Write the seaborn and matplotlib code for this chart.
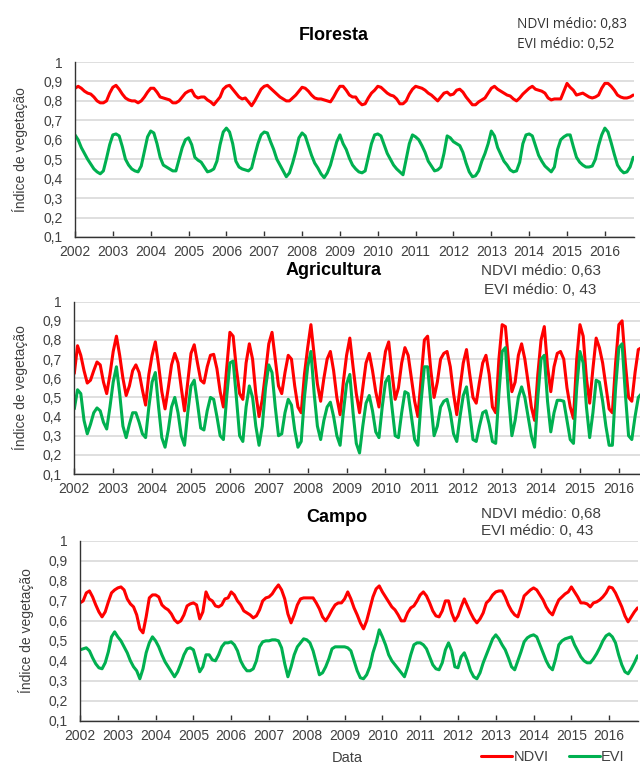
import matplotlib
matplotlib.use('Agg')
import matplotlib.pyplot as plt
import numpy as np
import pandas as pd
import seaborn as sns

# monthly values, Jan 2002 .. Oct 2016 (one row per year)
floresta_ndvi = [
    0.865, 0.875, 0.865, 0.85, 0.84, 0.835, 0.82, 0.80, 0.79, 0.79, 0.80, 0.84,
    0.87, 0.88, 0.86, 0.835, 0.815, 0.805, 0.80, 0.80, 0.79, 0.80, 0.82, 0.845,
    0.865, 0.865, 0.845, 0.82, 0.815, 0.81, 0.805, 0.79, 0.79, 0.80, 0.82, 0.84,
    0.85, 0.855, 0.825, 0.815, 0.82, 0.82, 0.805, 0.795, 0.78, 0.80, 0.82, 0.86,
    0.875, 0.88, 0.86, 0.84, 0.82, 0.81, 0.815, 0.795, 0.775, 0.80, 0.83, 0.86,
    0.875, 0.88, 0.865, 0.85, 0.835, 0.82, 0.81, 0.80, 0.80, 0.815, 0.83, 0.85,
    0.87, 0.865, 0.85, 0.83, 0.815, 0.81, 0.81, 0.805, 0.80, 0.795, 0.82, 0.85,
    0.875, 0.875, 0.855, 0.83, 0.82, 0.82, 0.795, 0.78, 0.785, 0.815, 0.84, 0.855,
    0.875, 0.87, 0.855, 0.84, 0.83, 0.825, 0.81, 0.785, 0.785, 0.80, 0.835, 0.86,
    0.875, 0.87, 0.865, 0.855, 0.84, 0.83, 0.815, 0.80, 0.82, 0.84, 0.845, 0.83,
    0.835, 0.855, 0.86, 0.845, 0.82, 0.80, 0.78, 0.78, 0.795, 0.805, 0.815, 0.84,
    0.865, 0.875, 0.86, 0.85, 0.84, 0.83, 0.825, 0.81, 0.80, 0.815, 0.835, 0.85,
    0.865, 0.875, 0.86, 0.855, 0.85, 0.84, 0.815, 0.805, 0.81, 0.81, 0.81, 0.85,
    0.89, 0.87, 0.855, 0.83, 0.835, 0.84, 0.83, 0.82, 0.815, 0.82, 0.83, 0.865,
    0.89, 0.89, 0.875, 0.855, 0.83, 0.82, 0.815, 0.815, 0.82, 0.83,
]
floresta_evi = [
    0.625, 0.60, 0.56, 0.53, 0.50, 0.475, 0.45, 0.435, 0.425, 0.44, 0.505, 0.575,
    0.625, 0.63, 0.62, 0.565, 0.50, 0.47, 0.45, 0.44, 0.435, 0.465, 0.54, 0.615,
    0.645, 0.635, 0.58, 0.51, 0.47, 0.46, 0.45, 0.44, 0.44, 0.50, 0.56, 0.60,
    0.61, 0.575, 0.51, 0.495, 0.485, 0.46, 0.435, 0.44, 0.45, 0.49, 0.575, 0.64,
    0.66, 0.64, 0.58, 0.49, 0.46, 0.45, 0.445, 0.44, 0.455, 0.52, 0.58, 0.625,
    0.64, 0.635, 0.59, 0.55, 0.50, 0.47, 0.44, 0.41, 0.43, 0.48, 0.54, 0.61,
    0.635, 0.62, 0.57, 0.52, 0.48, 0.455, 0.425, 0.405, 0.43, 0.47, 0.53, 0.59,
    0.625, 0.58, 0.55, 0.505, 0.47, 0.45, 0.435, 0.43, 0.44, 0.51, 0.58, 0.625,
    0.63, 0.62, 0.575, 0.53, 0.50, 0.47, 0.45, 0.435, 0.42, 0.50, 0.58, 0.625,
    0.615, 0.60, 0.57, 0.535, 0.49, 0.465, 0.44, 0.445, 0.46, 0.53, 0.62, 0.61,
    0.59, 0.58, 0.57, 0.535, 0.48, 0.435, 0.41, 0.415, 0.44, 0.49, 0.53, 0.58,
    0.645, 0.62, 0.56, 0.525, 0.49, 0.47, 0.445, 0.435, 0.44, 0.485, 0.58, 0.625,
    0.63, 0.62, 0.57, 0.52, 0.49, 0.465, 0.45, 0.435, 0.46, 0.55, 0.60, 0.615,
    0.625, 0.625, 0.565, 0.51, 0.485, 0.47, 0.46, 0.46, 0.465, 0.50, 0.57, 0.625,
    0.66, 0.64, 0.585, 0.525, 0.47, 0.445, 0.43, 0.435, 0.46, 0.51,
]
agric_ndvi = [
    0.625, 0.77, 0.72, 0.64, 0.575, 0.59, 0.64, 0.685, 0.67, 0.58, 0.52, 0.62,
    0.74, 0.82, 0.72, 0.60, 0.51, 0.56, 0.64, 0.67, 0.63, 0.54, 0.46, 0.62,
    0.72, 0.79, 0.67, 0.53, 0.44, 0.55, 0.67, 0.73, 0.68, 0.55, 0.43, 0.58,
    0.73, 0.775, 0.68, 0.59, 0.575, 0.66, 0.72, 0.725, 0.65, 0.53, 0.45, 0.65,
    0.84, 0.82, 0.65, 0.52, 0.49, 0.68, 0.78, 0.70, 0.52, 0.40, 0.49, 0.63,
    0.78, 0.84, 0.70, 0.56, 0.52, 0.63, 0.72, 0.70, 0.56, 0.45, 0.42, 0.62,
    0.76, 0.88, 0.72, 0.57, 0.48, 0.60, 0.70, 0.74, 0.64, 0.50, 0.41, 0.58,
    0.72, 0.81, 0.66, 0.52, 0.42, 0.55, 0.68, 0.73, 0.64, 0.53, 0.45, 0.62,
    0.74, 0.79, 0.63, 0.49, 0.55, 0.68, 0.76, 0.72, 0.60, 0.48, 0.40, 0.60,
    0.80, 0.82, 0.64, 0.50, 0.58, 0.70, 0.73, 0.74, 0.66, 0.52, 0.41, 0.55,
    0.68, 0.75, 0.62, 0.50, 0.47, 0.58, 0.68, 0.72, 0.62, 0.45, 0.42, 0.70,
    0.88, 0.87, 0.68, 0.53, 0.58, 0.72, 0.78, 0.70, 0.58, 0.45, 0.38, 0.62,
    0.80, 0.87, 0.66, 0.53, 0.66, 0.73, 0.74, 0.70, 0.55, 0.45, 0.39, 0.70,
    0.88, 0.82, 0.60, 0.47, 0.65, 0.81, 0.76, 0.68, 0.56, 0.44, 0.42, 0.68,
    0.88, 0.90, 0.68, 0.50, 0.48, 0.63, 0.75, 0.76, 0.70, 0.60,
]
agric_evi = [
    0.44, 0.54, 0.52, 0.38, 0.31, 0.36, 0.42, 0.445, 0.43, 0.37, 0.335, 0.45,
    0.58, 0.66, 0.52, 0.35, 0.29, 0.36, 0.42, 0.42, 0.37, 0.31, 0.29, 0.45,
    0.58, 0.63, 0.45, 0.29, 0.24, 0.33, 0.45, 0.50, 0.42, 0.30, 0.25, 0.42,
    0.56, 0.59, 0.47, 0.34, 0.33, 0.43, 0.50, 0.49, 0.40, 0.30, 0.28, 0.50,
    0.68, 0.69, 0.50, 0.30, 0.27, 0.45, 0.56, 0.50, 0.35, 0.25, 0.35, 0.55,
    0.67, 0.63, 0.45, 0.30, 0.31, 0.42, 0.49, 0.46, 0.33, 0.24, 0.27, 0.50,
    0.66, 0.74, 0.52, 0.35, 0.28, 0.38, 0.45, 0.475, 0.40, 0.30, 0.25, 0.42,
    0.57, 0.62, 0.42, 0.26, 0.21, 0.35, 0.47, 0.51, 0.43, 0.32, 0.29, 0.45,
    0.58, 0.61, 0.45, 0.30, 0.29, 0.42, 0.53, 0.52, 0.40, 0.28, 0.25, 0.48,
    0.66, 0.66, 0.47, 0.30, 0.35, 0.45, 0.48, 0.49, 0.42, 0.31, 0.27, 0.40,
    0.51, 0.555, 0.42, 0.28, 0.27, 0.35, 0.42, 0.43, 0.36, 0.27, 0.26, 0.52,
    0.74, 0.76, 0.50, 0.30, 0.38, 0.50, 0.555, 0.50, 0.40, 0.30, 0.24, 0.50,
    0.70, 0.72, 0.48, 0.32, 0.42, 0.485, 0.485, 0.48, 0.38, 0.28, 0.26, 0.55,
    0.74, 0.68, 0.45, 0.29, 0.42, 0.59, 0.58, 0.48, 0.35, 0.25, 0.25, 0.55,
    0.76, 0.78, 0.52, 0.30, 0.28, 0.40, 0.50, 0.52, 0.48, 0.42,
]
campo_ndvi = [
    0.69, 0.70, 0.74, 0.75, 0.72, 0.68, 0.645, 0.62, 0.645, 0.695, 0.74, 0.755,
    0.765, 0.77, 0.755, 0.71, 0.685, 0.67, 0.63, 0.56, 0.54, 0.62, 0.715, 0.73,
    0.73, 0.72, 0.68, 0.665, 0.655, 0.635, 0.605, 0.59, 0.60, 0.63, 0.675, 0.685,
    0.69, 0.68, 0.61, 0.645, 0.745, 0.71, 0.70, 0.675, 0.67, 0.68, 0.71, 0.715,
    0.745, 0.73, 0.70, 0.68, 0.65, 0.64, 0.63, 0.615, 0.625, 0.655, 0.70, 0.715,
    0.72, 0.735, 0.76, 0.78, 0.755, 0.71, 0.635, 0.59, 0.63, 0.68, 0.71, 0.715,
    0.715, 0.715, 0.715, 0.69, 0.66, 0.62, 0.60, 0.625, 0.655, 0.68, 0.69, 0.69,
    0.71, 0.745, 0.71, 0.665, 0.63, 0.59, 0.56, 0.60, 0.66, 0.72, 0.76, 0.775,
    0.745, 0.72, 0.695, 0.67, 0.655, 0.63, 0.60, 0.60, 0.64, 0.665, 0.675, 0.70,
    0.73, 0.745, 0.725, 0.69, 0.65, 0.625, 0.62, 0.65, 0.70, 0.70, 0.64, 0.60,
    0.625, 0.67, 0.71, 0.675, 0.64, 0.61, 0.59, 0.61, 0.64, 0.69, 0.705, 0.73,
    0.745, 0.75, 0.75, 0.72, 0.68, 0.65, 0.63, 0.62, 0.67, 0.725, 0.74, 0.755,
    0.765, 0.755, 0.73, 0.705, 0.67, 0.645, 0.63, 0.67, 0.705, 0.72, 0.735, 0.745,
    0.77, 0.745, 0.72, 0.69, 0.69, 0.685, 0.67, 0.69, 0.695, 0.705, 0.72, 0.74,
    0.77, 0.765, 0.74, 0.705, 0.67, 0.625, 0.595, 0.62, 0.645, 0.665,
]
campo_evi = [
    0.455, 0.46, 0.465, 0.45, 0.415, 0.385, 0.365, 0.36, 0.39, 0.445, 0.52, 0.545,
    0.52, 0.50, 0.47, 0.44, 0.40, 0.37, 0.35, 0.31, 0.36, 0.44, 0.49, 0.52,
    0.50, 0.47, 0.43, 0.395, 0.37, 0.345, 0.32, 0.345, 0.385, 0.43, 0.46, 0.465,
    0.455, 0.40, 0.345, 0.37, 0.43, 0.43, 0.405, 0.40, 0.43, 0.47, 0.49, 0.49,
    0.495, 0.48, 0.45, 0.40, 0.37, 0.35, 0.35, 0.36, 0.40, 0.47, 0.495, 0.50,
    0.50, 0.505, 0.505, 0.50, 0.465, 0.385, 0.32, 0.37, 0.43, 0.47, 0.49, 0.51,
    0.505, 0.49, 0.45, 0.39, 0.33, 0.34, 0.37, 0.41, 0.46, 0.47, 0.47, 0.47,
    0.47, 0.465, 0.45, 0.40, 0.35, 0.315, 0.31, 0.33, 0.37, 0.44, 0.49, 0.555,
    0.52, 0.48, 0.43, 0.40, 0.38, 0.36, 0.34, 0.32, 0.37, 0.43, 0.48, 0.49,
    0.49, 0.48, 0.46, 0.42, 0.38, 0.36, 0.355, 0.39, 0.455, 0.49, 0.45, 0.37,
    0.365, 0.42, 0.44, 0.40, 0.35, 0.32, 0.31, 0.34, 0.39, 0.43, 0.47, 0.51,
    0.53, 0.51, 0.48, 0.455, 0.415, 0.37, 0.355, 0.40, 0.445, 0.495, 0.515, 0.525,
    0.53, 0.52, 0.48, 0.44, 0.40, 0.37, 0.355, 0.41, 0.48, 0.50, 0.51, 0.515,
    0.52, 0.48, 0.45, 0.42, 0.40, 0.39, 0.39, 0.41, 0.435, 0.465, 0.50, 0.525,
    0.535, 0.52, 0.49, 0.43, 0.38, 0.345, 0.335, 0.36, 0.39, 0.425,
]

years = list(range(2002, 2017))
panel_titles = ['Floresta', 'Agricultura', 'Campo']
panel_notes = [('NDVI médio: 0,83', 'EVI médio: 0,52'),
               ('NDVI médio: 0,63', 'EVI médio: 0, 43'),
               ('NDVI médio: 0,68', 'EVI médio: 0, 43')]

RED = '#ff0000'
GREEN = '#00b050'
GRAY = '#404040'

sns.set_theme(style='white')
plt.rcParams['font.family'] = ['Liberation Sans', 'DejaVu Sans']

t = 2002 + np.arange(len(floresta_ndvi)) / 12.0
df = pd.DataFrame({'t': t,
                   'floresta_ndvi': floresta_ndvi, 'floresta_evi': floresta_evi,
                   'agric_ndvi': agric_ndvi, 'agric_evi': agric_evi,
                   'campo_ndvi': campo_ndvi, 'campo_evi': campo_evi})

W, H = 640, 766
fig = plt.figure(figsize=(W / 100, H / 100), dpi=100)

# axes boxes in pixels: left, top, right, bottom
boxes = [(75, 62, 634, 237), (74.3, 301.7, 648.8, 474), (80, 541, 638.3, 720.7)]
keys = [('floresta_ndvi', 'floresta_evi'), ('agric_ndvi', 'agric_evi'),
        ('campo_ndvi', 'campo_evi')]
axes = []
for (l, tp, r, b), (kn, ke) in zip(boxes, keys):
    ax = fig.add_axes([l / W, 1 - b / H, (r - l) / W, (b - tp) / H])
    ax.grid(axis='y', color='#d9d9d9', lw=1.2, zorder=0)
    sns.lineplot(data=df, x='t', y=kn, color=RED, lw=2.2, ax=ax, label='NDVI',
                 solid_joinstyle='round', solid_capstyle='round')
    sns.lineplot(data=df, x='t', y=ke, color=GREEN, lw=2.2, ax=ax, label='EVI',
                 solid_joinstyle='round', solid_capstyle='round')
    ax.get_legend().remove()
    ax.set_xlim(2002, 2016.77)
    ax.set_ylim(0.1, 1.0)
    ax.set_xticks(years)
    ax.set_xticklabels([str(y) for y in years])
    yt = np.round(np.arange(0.1, 1.01, 0.1), 1)
    ax.set_yticks(yt)
    ax.set_yticklabels(['1' if v == 1.0 else f'{v:.1f}'.replace('.', ',') for v in yt])
    ax.set_xlabel('')
    ax.set_ylabel('')
    for s in ['top', 'right']:
        ax.spines[s].set_visible(False)
    for s in ['left', 'bottom']:
        ax.spines[s].set_color('#333333')
        ax.spines[s].set_linewidth(1.0)
    ax.tick_params(axis='x', direction='in', length=4, width=1, color='#333333',
                   pad=6, labelsize=10, labelcolor=GRAY, bottom=True)
    ax.tick_params(axis='y', length=0, pad=9, labelsize=10, labelcolor=GRAY)
    axes.append(ax)

# titles
for title, (x, y) in zip(panel_titles, [(334, 35), (334, 271), (337, 518)]):
    fig.text(x / W, 1 - y / H, title, ha='center', va='center',
             fontsize=13, fontweight='bold', color='black')

# y labels
for (l, tp, r, b), x in zip(boxes, [20, 20, 26]):
    fig.text(x / W, 1 - (tp + b) / 2 / H, 'Índice de vegetação', rotation=90,
             ha='center', va='center', fontsize=10, color=GRAY)

# mean annotations
fig.text(517 / W, 1 - 24 / H, panel_notes[0][0], ha='left', va='center',
         fontsize=9.8, color='#333333', family=['Open Sans', 'DejaVu Sans'])
fig.text(517 / W, 1 - 44 / H, panel_notes[0][1], ha='left', va='center',
         fontsize=9.8, color='#333333', family=['Open Sans', 'DejaVu Sans'])
fig.text(481 / W, 1 - 271 / H, panel_notes[1][0], ha='left', va='center',
         fontsize=11, color=GRAY)
fig.text(484 / W, 1 - 290 / H, panel_notes[1][1], ha='left', va='center',
         fontsize=11, color=GRAY)
fig.text(481 / W, 1 - 514 / H, panel_notes[2][0], ha='left', va='center',
         fontsize=11, color=GRAY)
fig.text(481 / W, 1 - 531 / H, panel_notes[2][1], ha='left', va='center',
         fontsize=11, color=GRAY)

# x label and legend
fig.text(347 / W, 1 - 758 / H, 'Data', ha='center', va='center',
         fontsize=10.5, color=GRAY)
handles, labels = axes[2].get_legend_handles_labels()
fig.legend(handles, labels, loc='center', bbox_to_anchor=(553 / W, 1 - 757 / H),
           ncol=2, frameon=False, fontsize=10.5, labelcolor=GRAY,
           handlelength=2.1, handletextpad=0.1, columnspacing=1.4)

fig.savefig('out.png', dpi=100)
